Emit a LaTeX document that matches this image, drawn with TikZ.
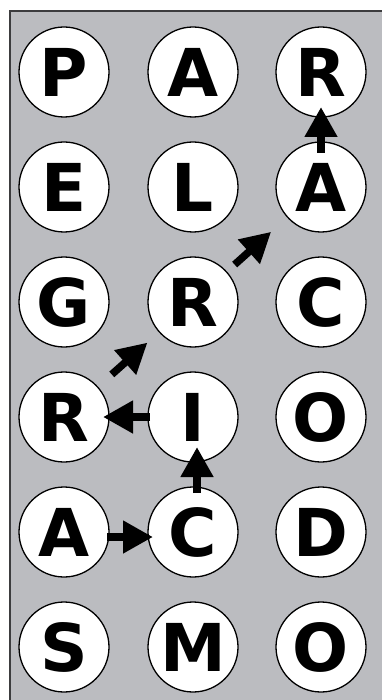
\documentclass[tikz,border=0pt]{standalone}
\usepackage{fontspec}
\setmainfont{DejaVu Sans}
\usetikzlibrary{arrows.meta}
\definecolor{panel}{RGB}{187,188,192}
\definecolor{frame}{RGB}{60,60,62}
\begin{document}
\begin{tikzpicture}[x=1pt,y=-1pt,
  letter/.style={circle,draw=black,line width=1.3pt,fill=white,minimum size=90pt,inner sep=0pt,
    font=\fontsize{66}{66}\selectfont\bfseries},
  move/.style={line width=7.5pt,-{Triangle[length=30pt,width=31pt]}}]
\useasboundingbox (0,0) rectangle (382,700);
\begin{scope}
\clip (0,0) rectangle (382,700);
\draw[frame,line width=2pt,fill=panel] (10,11) rectangle (400,720);
\end{scope}
% column x: 64, 193, 321 ; row y: 72 + 115 k
\node[letter] (p) at (64,72) {P};
\node[letter] (a1) at (193,72) {A};
\node[letter] (r1) at (321,72) {R};
\node[letter] (e) at (64,187) {E};
\node[letter] (l) at (193,187) {L};
\node[letter] (a2) at (321,187) {A};
\node[letter] (g) at (64,302) {G};
\node[letter] (r3) at (193,302) {R};
\node[letter] (c3) at (321,302) {C};
\node[letter] (r4) at (64,417) {R};
\node[letter] (i) at (193,417) {I};
\node[letter] (o4) at (321,417) {O};
\node[letter] (a5) at (64,532) {A};
\node[letter] (c5) at (193,532) {C};
\node[letter] (d) at (321,532) {D};
\node[letter] (s) at (64,647) {S};
\node[letter] (m) at (193,647) {M};
\node[letter] (o6) at (321,647) {O};
% arrows
\draw[move,shorten <=43pt,shorten >=40pt] ([yshift=-5pt]a5.center) -- ([yshift=-5pt]c5.center);
\draw[move,shorten <=39pt,shorten >=30pt] ([xshift=4pt]c5.center) -- ([xshift=4pt]i.center);
\draw[move,shorten <=43pt,shorten >=39pt] (i.center) -- (r4.center);
\draw[move,shorten <=64pt,shorten >=61pt] (r4.center) -- (r3.center);
\draw[move,shorten <=56pt,shorten >=67pt] (r3.center) -- (a2.center);
\draw[move,shorten <=34pt,shorten >=35pt] (a2.center) -- (r1.center);
\end{tikzpicture}
\end{document}
